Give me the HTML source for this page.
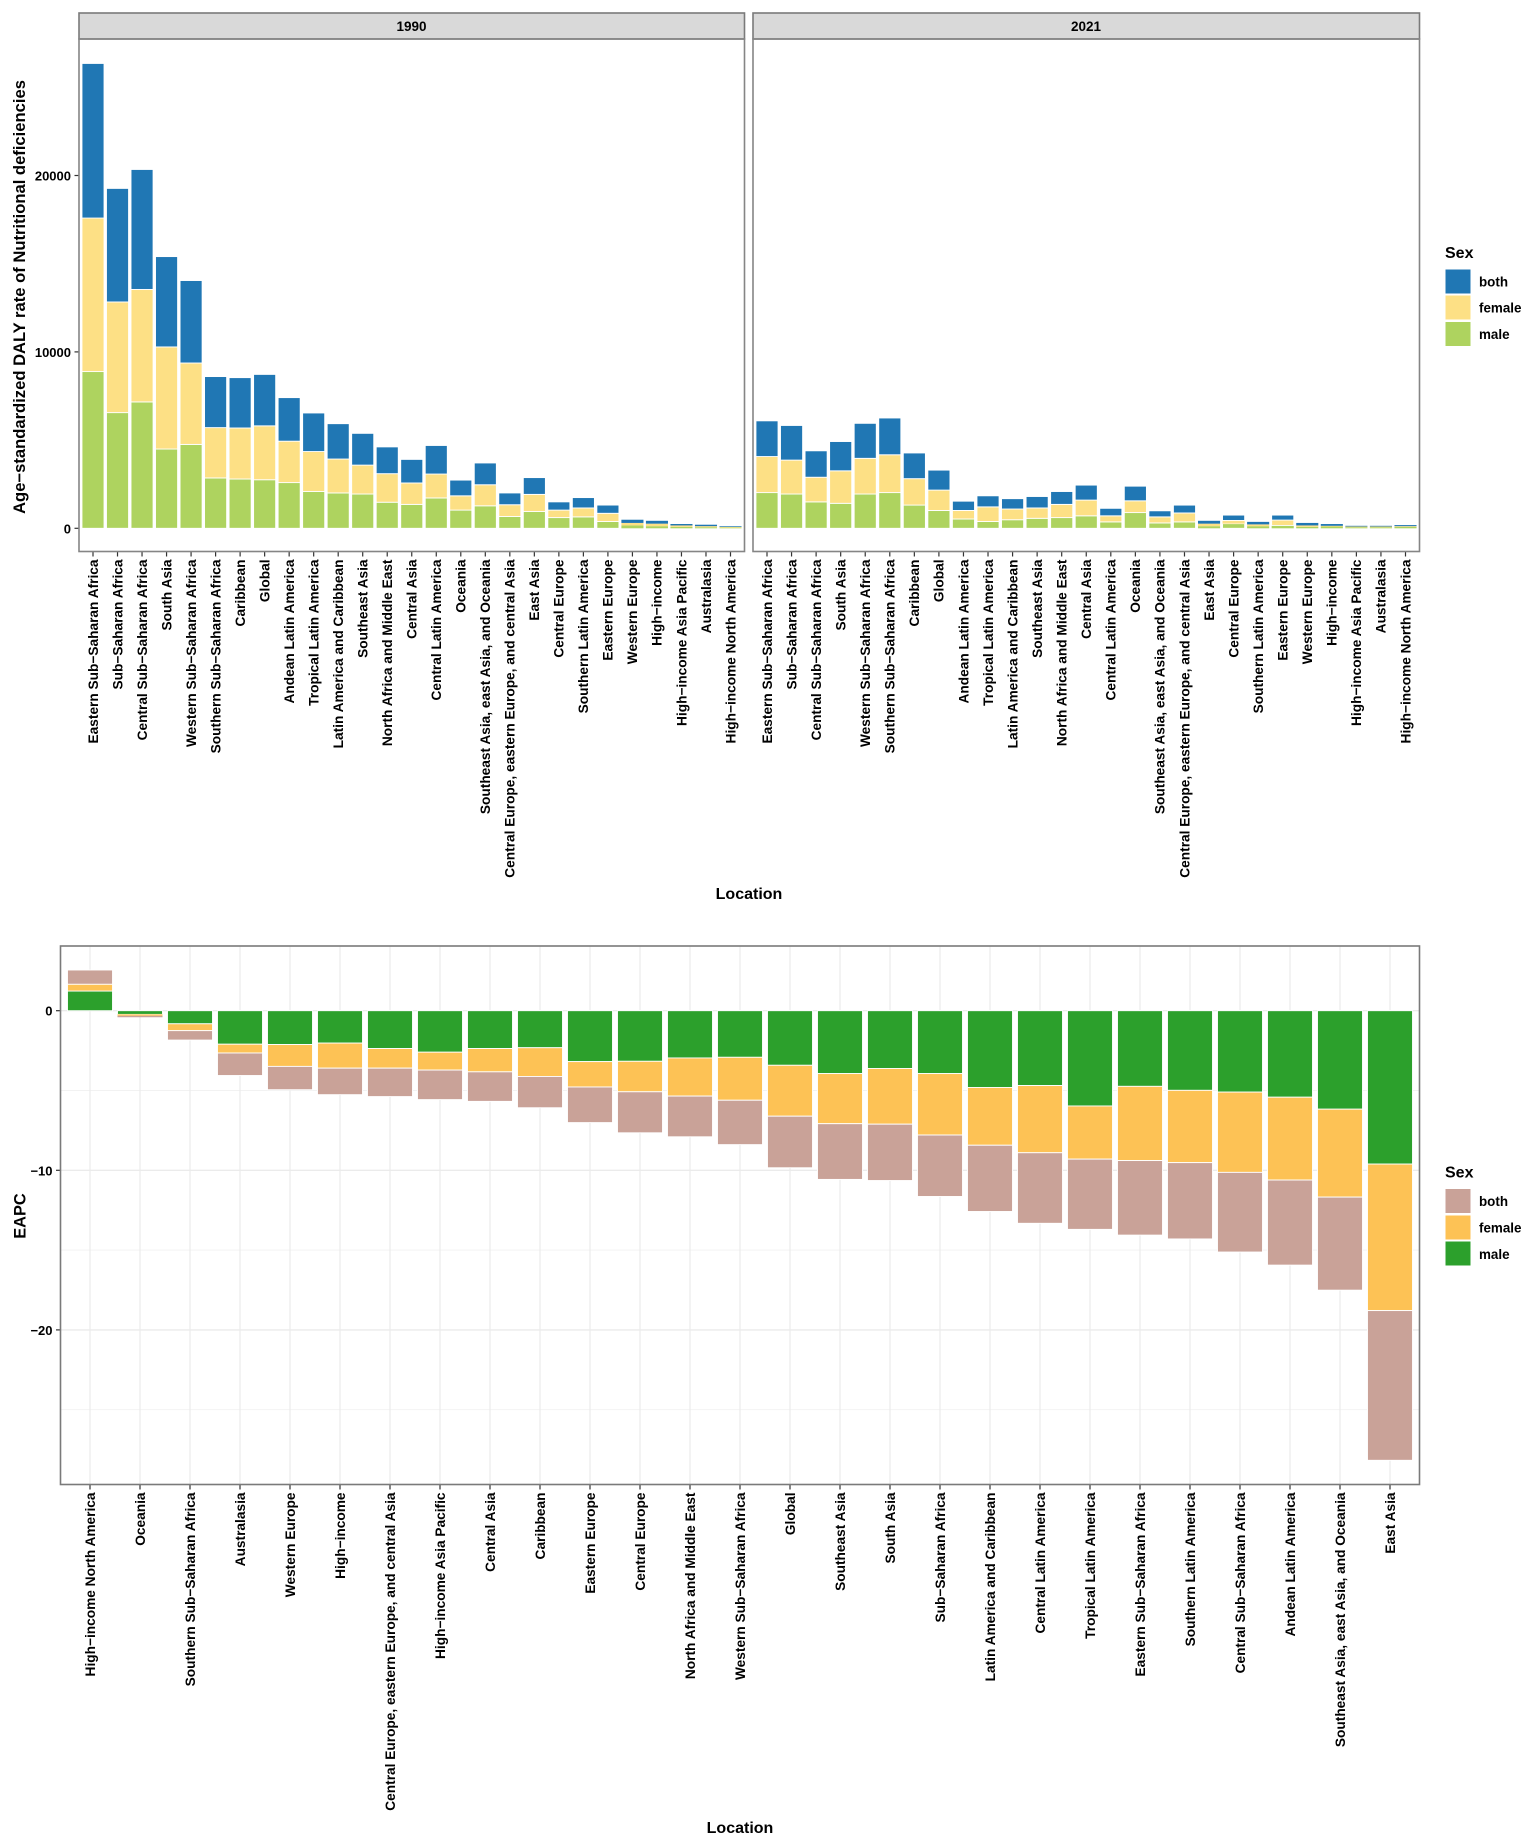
<!DOCTYPE html>
<html lang="en">
<head>
<meta charset="utf-8">
<title>Age-standardized DALY rate and EAPC of nutritional deficiencies</title>
<style>
html,body{margin:0;padding:0;background:#fff;}
svg{display:block;font-family:"Liberation Sans",Arial,sans-serif;font-weight:bold;fill:#000;}
</style>
</head>
<body>
<svg id="chart" xmlns="http://www.w3.org/2000/svg" width="1535" height="1842" viewBox="0 0 1535 1842">
  <rect x="0" y="0" width="1535" height="1842" fill="#fff"/>

  <rect x="79" y="13" width="665.5" height="26" fill="#d9d9d9" stroke="#7a7a7a" stroke-width="1.6"/>
  <text x="411.5" y="31" font-size="13.5" text-anchor="middle">1990</text>
  <rect x="753" y="13" width="666.5" height="26" fill="#d9d9d9" stroke="#7a7a7a" stroke-width="1.6"/>
  <text x="1086" y="31" font-size="13.5" text-anchor="middle">2021</text>

  <g id="layer-top"></g>
  <g id="layer-bottom"></g>

  <rect x="79" y="39" width="665.5" height="512.5" fill="none" stroke="#858585" stroke-width="1.6"/>
  <rect x="753" y="39" width="666.5" height="512.5" fill="none" stroke="#858585" stroke-width="1.6"/>
  <rect x="60.5" y="946" width="1359" height="538.5" fill="none" stroke="#7a7a7a" stroke-width="1.6"/>

  <text transform="translate(25,297) rotate(-90)" font-size="16.6" text-anchor="middle">Age−standardized DALY rate of Nutritional deficiencies</text>
  <text x="749" y="899" font-size="16" text-anchor="middle">Location</text>
  <text transform="translate(25.5,1216) rotate(-90)" font-size="16.4" text-anchor="middle">EAPC</text>
  <text x="740" y="1833" font-size="16" text-anchor="middle">Location</text>

  <g>
    <text x="1445" y="258" font-size="16">Sex</text>
    <rect x="1445.5" y="269.5" width="25" height="24" fill="#2077b4"/>
    <rect x="1445.5" y="295.5" width="25" height="24" fill="#fde085"/>
    <rect x="1445.5" y="322" width="25" height="24" fill="#aed35f"/>
    <text x="1479" y="286.5" font-size="13.4">both</text>
    <text x="1479" y="312.5" font-size="13.4">female</text>
    <text x="1479" y="339" font-size="13.4">male</text>
  </g>
  <g>
    <text x="1445" y="1177.5" font-size="16">Sex</text>
    <rect x="1445.5" y="1189" width="25" height="24" fill="#c9a298"/>
    <rect x="1445.5" y="1215.5" width="25" height="24" fill="#fdc255"/>
    <rect x="1445.5" y="1241.5" width="25" height="24" fill="#2ca02c"/>
    <text x="1479" y="1206" font-size="13.4">both</text>
    <text x="1479" y="1232.5" font-size="13.4">female</text>
    <text x="1479" y="1259" font-size="13.4">male</text>
  </g>
</svg>
<script>
var categories1990 = ["Eastern Sub−Saharan Africa","Sub−Saharan Africa","Central Sub−Saharan Africa","South Asia","Western Sub−Saharan Africa","Southern Sub−Saharan Africa","Caribbean","Global","Andean Latin America","Tropical Latin America","Latin America and Caribbean","Southeast Asia","North Africa and Middle East","Central Asia","Central Latin America","Oceania","Southeast Asia, east Asia, and Oceania","Central Europe, eastern Europe, and central Asia","East Asia","Central Europe","Southern Latin America","Eastern Europe","Western Europe","High−income","High−income Asia Pacific","Australasia","High−income North America"];
var male1990 = [8885,6558,7165,4493,4756,2854,2793,2753,2591,2085,2004,1943,1478,1356,1720,1032,1275,668,951,607,648,385,162,121,81,61,40];
var female1990 = [8703,6274,6376,5789,4615,2854,2894,3056,2348,2267,1923,1639,1619,1214,1356,810,1194,668,972,425,506,466,142,142,81,61,40];
var both1990 = [8764,6436,6801,5121,4675,2894,2854,2915,2469,2186,2004,1801,1518,1336,1619,891,1235,668,951,466,587,466,182,162,81,81,40];

var categories2021 = categories1990;
var male2021 = [2024,1943,1498,1417,1943,2024,1316,1012,526,385,486,567,607,708,364,891,304,364,121,263,121,162,81,101,61,61,81];
var female2021 = [2044,1923,1397,1842,2024,2145,1498,1154,486,830,607,587,749,891,344,668,344,506,142,182,101,304,81,40,40,40,40];
var both2021 = [2024,1963,1498,1660,1984,2085,1457,1133,526,627,587,648,729,850,425,830,344,445,162,304,142,283,142,101,40,40,61];

var eapcCategories = ["High−income North America","Oceania","Southern Sub−Saharan Africa","Australasia","Western Europe","High−income","Central Europe, eastern Europe, and central Asia","High−income Asia Pacific","Central Asia","Caribbean","Eastern Europe","Central Europe","North Africa and Middle East","Western Sub−Saharan Africa","Global","Southeast Asia","South Asia","Sub−Saharan Africa","Latin America and Caribbean","Central Latin America","Tropical Latin America","Eastern Sub−Saharan Africa","Southern Latin America","Central Sub−Saharan Africa","Andean Latin America","Southeast Asia, east Asia, and Oceania","East Asia"];
var eapcMale = [1.23,-0.23,-0.82,-2.1,-2.12,-2.03,-2.37,-2.6,-2.37,-2.32,-3.19,-3.17,-2.96,-2.92,-3.42,-3.94,-3.62,-3.94,-4.81,-4.69,-5.97,-4.74,-4.99,-5.1,-5.42,-6.17,-9.61];
var eapcFemale = [0.43,-0.09,-0.43,-0.55,-1.37,-1.57,-1.23,-1.12,-1.46,-1.8,-1.59,-1.91,-2.39,-2.69,-3.19,-3.14,-3.49,-3.85,-3.62,-4.21,-3.33,-4.65,-4.53,-5.03,-5.19,-5.51,-9.18];
var eapcBoth = [0.89,-0.09,-0.59,-1.41,-1.46,-1.66,-1.78,-1.85,-1.85,-1.96,-2.23,-2.57,-2.55,-2.78,-3.23,-3.49,-3.53,-3.85,-4.15,-4.42,-4.4,-4.67,-4.78,-4.99,-5.33,-5.83,-9.38];

var dalyTicks = [0,10000,20000];
var dalyTickLabels = ["0","10000","20000"];
var eapcMajorTicks = [0,-10,-20];
var eapcTickLabels = ["0","−10","−20"];
var eapcMinorTicks = [-5,-15,-25];

var SVGNS = "http://www.w3.org/2000/svg";
var layerTop = document.getElementById("layer-top");
var layerBottom = document.getElementById("layer-bottom");

function make(parent, tag, attrs, txt) {
  var n = document.createElementNS(SVGNS, tag);
  for (var k in attrs) { n.setAttribute(k, attrs[k]); }
  if (txt !== undefined) { n.textContent = txt; }
  parent.appendChild(n);
  return n;
}
function slug(s) {
  return s.toLowerCase().replace(/[^a-z0-9]+/g, "-");
}
function bandScale(left, width, pad, count) {
  var step = (width - 2 * pad) / (count - 1);
  return { center: function (i) { return left + pad + i * step; }, bar: step * 0.9 };
}
function dalyY(v) { return 528.3 - v * 0.01764; }
function eapcY(v) { return 1010.7 - v * 15.96; }

function drawXLabels(parent, cats, sc, axisY, prefix) {
  cats.forEach(function (c, i) {
    var cx = sc.center(i);
    var tick = make(parent, "line", { x1: cx, x2: cx, y1: axisY, y2: axisY + 5, stroke: "#333", "stroke-width": 1.2 });
    
    
    var lab = make(parent, "text", { transform: "translate(" + (cx + 4.8) + "," + (axisY + 8) + ") rotate(-90)", "font-size": 13.7, "text-anchor": "end" }, c);
    
    
  });
}
function drawStack(parent, sc, yFn, i, values, colors, names, prefix) {
  var pos = 0, neg = 0, cx = sc.center(i);
  values.forEach(function (v, s) {
    var start, end;
    if (v >= 0) { start = pos; pos += v; end = pos; }
    else { start = neg; neg += v; end = neg; }
    var y1 = yFn(start), y2 = yFn(end), h = Math.abs(y2 - y1);
    var r = make(parent, "rect", { x: cx - sc.bar / 2, width: sc.bar, y: Math.min(y1, y2), height: h, fill: colors[s] });
    if (h >= 3.5) {
      r.setAttribute("stroke", "#fff");
      r.setAttribute("stroke-width", 0.9);
    }
    
    
  });
}
function drawDalyPanel(left, width, cats, male, female, both, prefix) {
  var sc = bandScale(left, width, 14.0, cats.length);
  var colors = ["#aed35f", "#fde085", "#2077b4"];
  var names = ["male", "female", "both"];
  cats.forEach(function (c, i) {
    drawStack(layerTop, sc, dalyY, i, [male[i], female[i], both[i]], colors, names, prefix);
  });
  drawXLabels(layerTop, cats, sc, 551.5, prefix);
}

drawDalyPanel(79, 665.5, categories1990, male1990, female1990, both1990, "panel-1990");
drawDalyPanel(753, 666.5, categories2021, male2021, female2021, both2021, "panel-2021");

dalyTicks.forEach(function (v, i) {
  var y = dalyY(v);
  var t = make(layerTop, "line", { x1: 74.5, x2: 79, y1: y, y2: y, stroke: "#333", "stroke-width": 1.2 });
  
  
  var l = make(layerTop, "text", { x: 71, y: y + 5, "font-size": 13, "text-anchor": "end" }, dalyTickLabels[i]);
  
  
});

var eapcScale = bandScale(60.5, 1359, 29.5, eapcCategories.length);
eapcMinorTicks.forEach(function (v) {
  var g = make(layerBottom, "line", { x1: 60.5, x2: 1419.5, y1: eapcY(v), y2: eapcY(v), stroke: "#f2f2f2", "stroke-width": 0.9 });
  
  
});
eapcMajorTicks.forEach(function (v) {
  var g = make(layerBottom, "line", { x1: 60.5, x2: 1419.5, y1: eapcY(v), y2: eapcY(v), stroke: "#ebebeb", "stroke-width": 1.4 });
  
  
});
eapcCategories.forEach(function (c, i) {
  var cx = eapcScale.center(i);
  var g = make(layerBottom, "line", { x1: cx, x2: cx, y1: 946, y2: 1484.5, stroke: "#ebebeb", "stroke-width": 1.2 });
  
  
});
eapcCategories.forEach(function (c, i) {
  drawStack(layerBottom, eapcScale, eapcY, i, [eapcMale[i], eapcFemale[i], eapcBoth[i]], ["#2ca02c", "#fdc255", "#c9a298"], ["male", "female", "both"], "eapc");
});
drawXLabels(layerBottom, eapcCategories, eapcScale, 1484.5, "eapc");
eapcMajorTicks.forEach(function (v, i) {
  var y = eapcY(v);
  var t = make(layerBottom, "line", { x1: 56, x2: 60.5, y1: y, y2: y, stroke: "#333", "stroke-width": 1.2 });
  
  
  var l = make(layerBottom, "text", { x: 52.5, y: y + 5, "font-size": 13, "text-anchor": "end" }, eapcTickLabels[i]);
  
  
});
</script>
</body>
</html>
